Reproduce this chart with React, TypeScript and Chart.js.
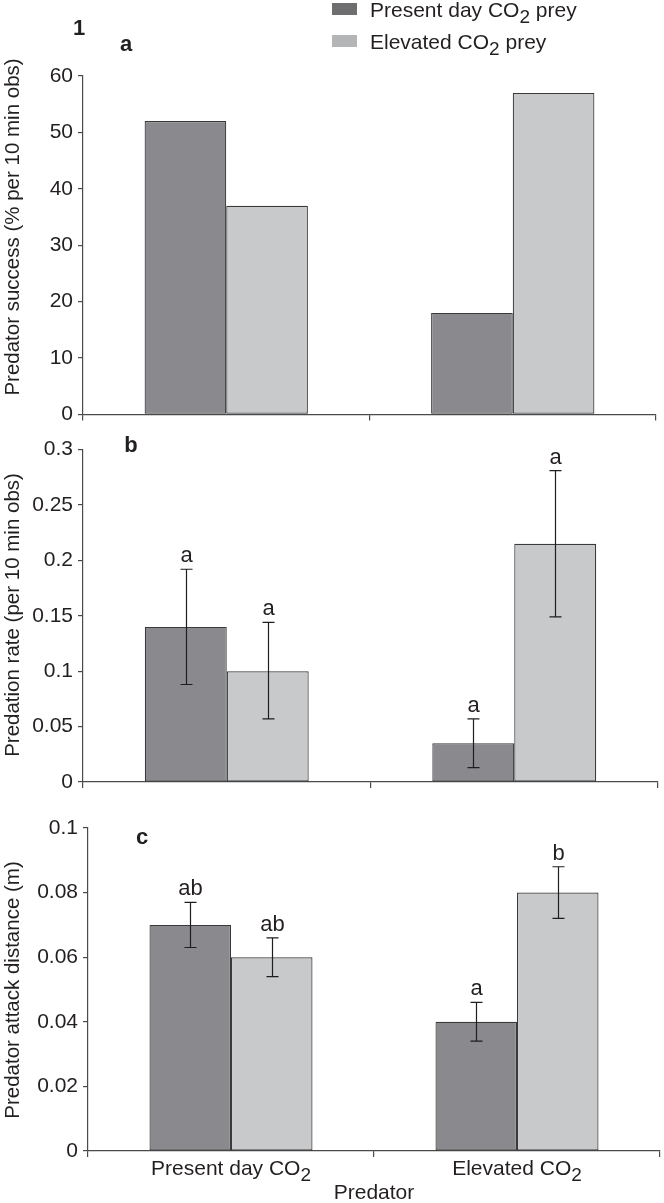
import React, { useEffect, useRef } from 'react';
import { Chart, registerables } from 'chart.js';

Chart.register(...registerables);

// ---------- data ----------
const predatorGroups = ['Present day CO2', 'Elevated CO2'];
const preySeries = ['Present day CO2 prey', 'Elevated CO2 prey'];
const xAxisTitle = 'Predator';

const successPresentPrey = [52, 18];
const successElevatedPrey = [37, 57];

const ratePresentPrey = [0.14, 0.035];
const rateElevatedPrey = [0.1, 0.215];
const rateLowPresentPrey = [0.088, 0.013];
const rateHighPresentPrey = [0.192, 0.057];
const rateLowElevatedPrey = [0.057, 0.149];
const rateHighElevatedPrey = [0.144, 0.281];
const rateLettersPresentPrey = ['a', 'a'];
const rateLettersElevatedPrey = ['a', 'a'];

const distancePresentPrey = [0.07, 0.04];
const distanceElevatedPrey = [0.06, 0.08];
const distanceLowPresentPrey = [0.063, 0.034];
const distanceHighPresentPrey = [0.077, 0.046];
const distanceLowElevatedPrey = [0.054, 0.072];
const distanceHighElevatedPrey = [0.066, 0.088];
const distanceLettersPresentPrey = ['ab', 'a'];
const distanceLettersElevatedPrey = ['ab', 'b'];

const successTicks = [0, 10, 20, 30, 40, 50, 60];
const rateTicks = [0, 0.05, 0.1, 0.15, 0.2, 0.25, 0.3];
const distanceTicks = [0, 0.02, 0.04, 0.06, 0.08, 0.1];

// ---------- style ----------
const FONT = '"Liberation Sans", Arial, Helvetica, sans-serif';
const TEXT = '#231f20';
const DARK = '#8a8a8e';
const LIGHT = '#c8c9cb';
const LEG_DARK = '#6e6e70';
const LEG_LIGHT = '#b4b5b7';
const BORDER = '#3a3a3a';
const AXIS = '#4a4a4a';
const W = 664;

function drawRich(ctx: CanvasRenderingContext2D, text: string, x: number, y: number, size: number, align: 'left' | 'center') {
  // renders "CO2" with a subscript 2
  const parts: { t: string; sub: boolean }[] = [];
  const idx = text.indexOf('CO2');
  if (idx >= 0) {
    parts.push({ t: text.slice(0, idx + 2), sub: false });
    parts.push({ t: '2', sub: true });
    const rest = text.slice(idx + 3);
    if (rest) parts.push({ t: rest, sub: false });
  } else {
    parts.push({ t: text, sub: false });
  }
  const subSize = Math.round(size * 0.9);
  let total = 0;
  const widths = parts.map((p) => {
    ctx.font = `${p.sub ? subSize : size}px ${FONT}`;
    const w = ctx.measureText(p.t).width;
    total += w;
    return w;
  });
  let cx = align === 'center' ? x - total / 2 : x;
  ctx.textAlign = 'left';
  ctx.textBaseline = 'alphabetic';
  ctx.fillStyle = TEXT;
  parts.forEach((p, i) => {
    ctx.font = `${p.sub ? subSize : size}px ${FONT}`;
    ctx.fillText(p.t, cx, p.sub ? y + size * 0.3 : y);
    cx += widths[i];
  });
}

type PanelSpec = {
  top: number;
  height: number;
  plotTop: number;
  plotBottom: number;
  axisX: number;
  plotRight: number;
  ticks: number[];
  values: number[][];
  low?: number[][];
  high?: number[][];
  letters?: string[][];
  yTitle: string;
  yTitleCenter: number;
  labels: { text: string; x: number; y: number; size: number }[];
  legend?: boolean;
  xLabels?: boolean;
};

function BarPanel({ spec }: { spec: PanelSpec }) {
  const ref = useRef<HTMLCanvasElement | null>(null);
  useEffect(() => {
    const canvas = ref.current;
    if (!canvas) return;
    const s = spec;
    const annot = {
      id: 'annot',
      afterDatasetsDraw(chart: any) {
        const ctx: CanvasRenderingContext2D = chart.ctx;
        const yScale = chart.scales.y;
        const xScale = chart.scales.x;
        ctx.save();
        if (s.low && s.high) {
          s.values.forEach((_, di) => {
            const meta = chart.getDatasetMeta(di);
            meta.data.forEach((bar: any, i: number) => {
              const x = Math.round(bar.x) + 0.5;
              const yH = yScale.getPixelForValue(s.high![di][i]);
              const yL = yScale.getPixelForValue(s.low![di][i]);
              ctx.strokeStyle = '#1e1e1e';
              ctx.lineWidth = 1.2;
              ctx.beginPath();
              ctx.moveTo(x, yH);
              ctx.lineTo(x, yL);
              ctx.moveTo(x - 6, yH);
              ctx.lineTo(x + 6, yH);
              ctx.moveTo(x - 6, yL);
              ctx.lineTo(x + 6, yL);
              ctx.stroke();
              if (s.letters) {
                ctx.font = `22px ${FONT}`;
                ctx.fillStyle = TEXT;
                ctx.textAlign = 'center';
                ctx.textBaseline = 'alphabetic';
                ctx.fillText(s.letters[di][i], x, yH - 7);
              }
            });
          });
        }
        // y axis title
        ctx.save();
        ctx.translate(13, s.yTitleCenter - s.top);
        ctx.rotate(-Math.PI / 2);
        ctx.font = `20.5px ${FONT}`;
        ctx.fillStyle = TEXT;
        ctx.textAlign = 'center';
        ctx.textBaseline = 'middle';
        ctx.fillText(s.yTitle, 0, 0);
        ctx.restore();
        // panel labels
        s.labels.forEach((l) => {
          ctx.font = `bold ${l.size}px ${FONT}`;
          ctx.fillStyle = TEXT;
          ctx.textAlign = 'center';
          ctx.textBaseline = 'middle';
          ctx.fillText(l.text, l.x, l.y - s.top);
        });
        if (s.legend) {
          const cols = [LEG_DARK, LEG_LIGHT];
          const rows = [3, 35];
          preySeries.forEach((name, i) => {
            ctx.fillStyle = cols[i];
            ctx.fillRect(332, rows[i], 25, 12);
            drawRich(ctx, name, 370, rows[i] + 14, 21, 'left');
          });
        }
        if (s.xLabels) {
          predatorGroups.forEach((g, i) => {
            const x = xScale.getPixelForValue(i);
            drawRich(ctx, g, x, s.plotBottom - s.top + 24, 21, 'center');
          });
          ctx.font = `21px ${FONT}`;
          ctx.fillStyle = TEXT;
          ctx.textAlign = 'center';
          ctx.textBaseline = 'alphabetic';
          ctx.fillText(xAxisTitle, (xScale.left + xScale.right) / 2, s.plotBottom - s.top + 48);
        }
        ctx.restore();
      },
    };
    const yMax = s.ticks[s.ticks.length - 1];
    const step = s.ticks[1] - s.ticks[0];
    const chart = new Chart(canvas, {
      type: 'bar',
      data: {
        labels: predatorGroups,
        datasets: [
          {
            label: preySeries[0],
            data: s.values[0],
            backgroundColor: DARK,
            borderColor: BORDER,
            borderWidth: 1.2,
            borderSkipped: false,
            categoryPercentage: 0.57,
            barPercentage: 1,
          },
          {
            label: preySeries[1],
            data: s.values[1],
            backgroundColor: LIGHT,
            borderColor: BORDER,
            borderWidth: 1.2,
            borderSkipped: false,
            categoryPercentage: 0.57,
            barPercentage: 1,
          },
        ],
      },
      options: {
        animation: false,
        responsive: false,
        devicePixelRatio: 1,
        events: [],
        layout: { padding: { top: s.plotTop - s.top, right: W - s.plotRight, left: 0, bottom: 0 } },
        plugins: { legend: { display: false }, tooltip: { enabled: false } },
        scales: {
          x: {
            offset: true,
            grid: { offset: true, drawOnChartArea: false, drawTicks: true, tickLength: 6, color: AXIS, lineWidth: 1.2 },
            border: { display: true, color: AXIS, width: 1.2 },
            ticks: { display: false },
            afterFit: (sc: any) => {
              sc.height = s.top + s.height - s.plotBottom;
            },
          },
          y: {
            min: 0,
            max: yMax,
            ticks: {
              stepSize: step,
              color: TEXT,
              padding: 5,
              font: { family: FONT, size: 21 },
              callback: (v: any) => String(+Number(v).toFixed(3)),
            },
            grid: { drawOnChartArea: false, drawTicks: true, tickLength: 5, color: AXIS, lineWidth: 1.2 },
            border: { display: true, color: AXIS, width: 1.2 },
            afterFit: (sc: any) => {
              sc.width = s.axisX;
            },
          },
        },
      },
      plugins: [annot],
    } as any);
    return () => chart.destroy();
  }, [spec]);
  return (
    <canvas
      ref={ref}
      width={W}
      height={spec.height}
      style={{ position: 'absolute', left: 0, top: spec.top, width: W, height: spec.height, display: 'block' }}
    />
  );
}

const panels: PanelSpec[] = [
  {
    top: 0,
    height: 432,
    plotTop: 76,
    plotBottom: 415,
    axisX: 83,
    plotRight: 656,
    ticks: successTicks,
    values: [successPresentPrey, successElevatedPrey],
    yTitle: 'Predator success (% per 10 min obs)',
    yTitleCenter: 227,
    labels: [
      { text: '1', x: 79, y: 29, size: 22 },
      { text: 'a', x: 126, y: 45, size: 22 },
    ],
    legend: true,
  },
  {
    top: 432,
    height: 370,
    plotTop: 443,
    plotBottom: 782,
    axisX: 83,
    plotRight: 658,
    ticks: rateTicks,
    values: [ratePresentPrey, rateElevatedPrey],
    low: [rateLowPresentPrey, rateLowElevatedPrey],
    high: [rateHighPresentPrey, rateHighElevatedPrey],
    letters: [rateLettersPresentPrey, rateLettersElevatedPrey],
    yTitle: 'Predation rate (per 10 min obs)',
    yTitleCenter: 615,
    labels: [{ text: 'b', x: 131, y: 446, size: 22 }],
  },
  {
    top: 802,
    height: 401,
    plotTop: 828,
    plotBottom: 1151,
    axisX: 88,
    plotRight: 660,
    ticks: distanceTicks,
    values: [distancePresentPrey, distanceElevatedPrey],
    low: [distanceLowPresentPrey, distanceLowElevatedPrey],
    high: [distanceHighPresentPrey, distanceHighElevatedPrey],
    letters: [distanceLettersPresentPrey, distanceLettersElevatedPrey],
    yTitle: 'Predator attack distance (m)',
    yTitleCenter: 990,
    labels: [{ text: 'c', x: 142, y: 838, size: 22 }],
    xLabels: true,
  },
];

export default function App() {
  return (
    <div style={{ position: 'absolute', left: 0, top: 0, width: W, height: 1203, background: '#fff', overflow: 'hidden' }}>
      {panels.map((p, i) => (
        <BarPanel key={i} spec={p} />
      ))}
    </div>
  );
}
